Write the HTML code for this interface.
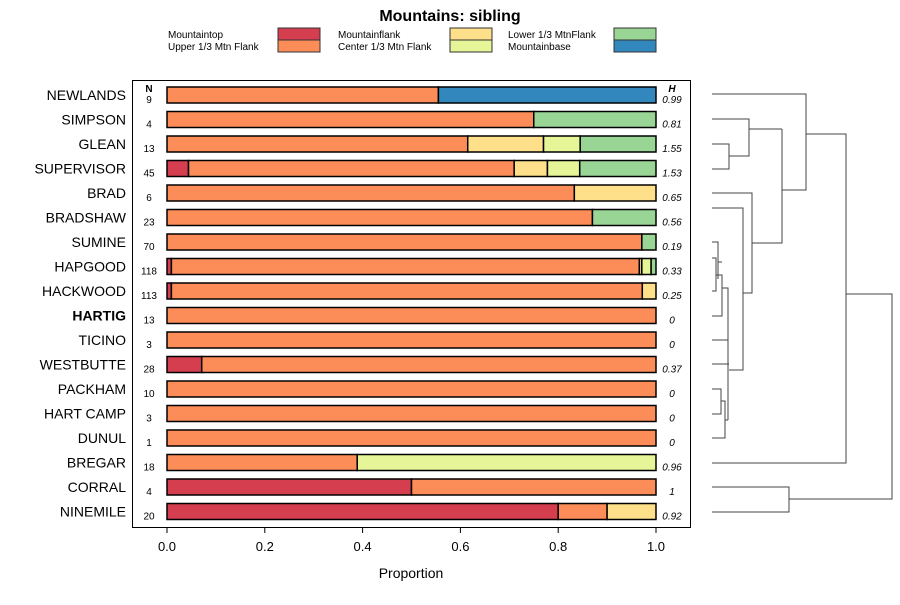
<!DOCTYPE html>
<html><head><meta charset="utf-8"><style>
body{margin:0;background:#fff}
svg{font-family:"Liberation Sans",sans-serif}
</style></head><body>
<svg id="chart" width="900" height="600" xmlns="http://www.w3.org/2000/svg">
<text x="450" y="21" text-anchor="middle" font-size="16" font-weight="bold">Mountains: sibling</text>
<g id="legend"></g>
<rect x="132.5" y="80.5" width="558" height="447" fill="none" stroke="#000" stroke-width="1"/>
<g id="bars"></g>
<g id="axis"></g>
<text x="411" y="578" text-anchor="middle" font-size="14">Proportion</text>
<text x="149" y="92" text-anchor="middle" font-size="10" font-weight="bold">N</text>
<text x="672" y="92" text-anchor="middle" font-size="10" font-weight="bold" font-style="italic">H</text>
<g id="dendro" fill="none" stroke="#444" stroke-width="1"></g>
</svg>
<script>
const categories=["Mountaintop","Upper 1/3 Mtn Flank","Mountainflank","Center 1/3 Mtn Flank","Lower 1/3 MtnFlank","Mountainbase"];
const colors=["#D53E4F","#FC8D59","#FEE08B","#E6F598","#99D594","#3288BD"];
const sites=["NEWLANDS","SIMPSON","GLEAN","SUPERVISOR","BRAD","BRADSHAW","SUMINE","HAPGOOD","HACKWOOD","HARTIG","TICINO","WESTBUTTE","PACKHAM","HART CAMP","DUNUL","BREGAR","CORRAL","NINEMILE"];
const nValues=[9,4,13,45,6,23,70,118,113,13,3,28,10,3,1,18,4,20];
const hValues=["0.99","0.81","1.55","1.53","0.65","0.56","0.19","0.33","0.25","0","0","0.37","0","0","0","0.96","1","0.92"];
// proportions per site: [top, upper, flank, center, lower, base]
const mountaintop=[0,0,0,0.044,0,0,0,0.009,0.009,0,0,0.071,0,0,0,0,0.5,0.8];
const upperFlank=[0.555,0.75,0.615,0.666,0.833,0.87,0.971,0.957,0.963,1,1,0.929,1,1,1,0.389,0.5,0.1];
const mountainflank=[0,0,0.155,0.068,0.167,0,0,0.005,0.028,0,0,0,0,0,0,0,0,0.1];
const centerFlank=[0,0,0.075,0.066,0,0,0,0.019,0,0,0,0,0,0,0,0.611,0,0];
const lowerFlank=[0,0.25,0.155,0.156,0,0.13,0.029,0.01,0,0,0,0,0,0,0,0,0,0];
const mountainbase=[0.445,0,0,0,0,0,0,0,0,0,0,0,0,0,0,0,0,0];
const xTicks=[0,0.2,0.4,0.6,0.8,1.0];
const xTickLabels=["0.0","0.2","0.4","0.6","0.8","1.0"];

const NS="http://www.w3.org/2000/svg";
const x=v=>167+v*489;
const y=i=>95+i*24.5;
function mk(tag,attrs,parent){const e=document.createElementNS(NS,tag);for(const k in attrs)e.setAttribute(k,attrs[k]);parent.appendChild(e);return e;}
const series=[mountaintop,upperFlank,mountainflank,centerFlank,lowerFlank,mountainbase];
const bars=document.getElementById('bars');
sites.forEach((s,i)=>{
  const yc=y(i);
  const lab=mk('text',{x:126,y:yc+5,'text-anchor':'end','font-size':14},bars);
  lab.textContent=s;if(s==="HARTIG")lab.setAttribute('font-weight','bold');
  
  
  const n=mk('text',{x:149,y:yc+8,'text-anchor':'middle','font-size':10},bars);
  n.textContent=nValues[i];
  
  
  const h=mk('text',{x:672,y:yc+8,'text-anchor':'middle','font-size':10,'font-style':'italic'},bars);
  h.textContent=hValues[i];
  
  
  let cum=0;
  series.forEach((ser,k)=>{
    const v=ser[i];if(v<=0)return;
    const r=mk('rect',{x:x(cum),y:yc-8,width:x(cum+v)-x(cum),height:16,fill:colors[k],stroke:'#000','stroke-width':1.5},bars);
    
    
    cum+=v;
  });
});
const axis=document.getElementById('axis');
xTicks.forEach((t,i)=>{
  const l=mk('line',{x1:x(t),x2:x(t),y1:527,y2:533,stroke:'#000'},axis);
  
  
  const tx=mk('text',{x:x(t),y:551,'text-anchor':'middle','font-size':13},axis);
  tx.textContent=xTickLabels[i];
  
  
});
const legend=document.getElementById('legend');
const lx=[[168,278],[338,450],[508,614]];
categories.forEach((c,k)=>{
  const col=Math.floor(k/2),row=k%2;
  const t=mk('text',{x:lx[col][0],y:38+row*12,'font-size':10},legend);
  t.textContent=c;
  
  
  const r=mk('rect',{x:lx[col][1],y:28+row*12,width:42,height:12,fill:colors[k],stroke:'#333'},legend);
  
  
});
const dendroPaths=["M712 94H806V134","M712 119H749V129H782","M712 144H729V169H712","M729 156H749V119",
"M782 129V243H752","M782 190H806V94","M806 134H846V463H712","M846 294H892V499H789","M712 487H789V512H712",
"M712 193H752V293H743","M712 208H743V370H729","M712 242H718V279","M712 258H716V291H712","M716 275H722V316H712","M718 262H722",
"M722 288H728V420","M712 340H728","M712 364H729","M712 389H721V414H712","M721 401H725V438H712","M725 420H728"];
const dg=document.getElementById('dendro');
dendroPaths.forEach(d=>{
  const p=mk('path',{d:d},dg);
  
  
});
</script>
</body></html>
